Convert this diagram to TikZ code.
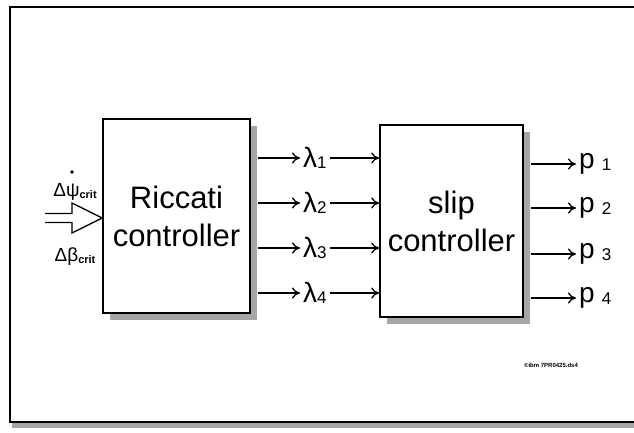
\documentclass[tikz,border=0pt]{standalone}
\usepackage{fontspec}
\setmainfont{Liberation Sans}
\usetikzlibrary{arrows.meta,positioning,shadows,calc}
\newcommand{\lsub}[1]{{\fontsize{17}{17}\selectfont\raisebox{-1.5pt}{#1}}}
\newcommand{\crsub}[1]{{\fontsize{11}{11}\selectfont\bfseries\raisebox{-2pt}{#1}}}
\tikzset{
  ctrlbox/.style={draw,line width=1.6pt,fill=white,align=center,
    font=\fontsize{31}{38}\selectfont,
    drop shadow={shadow xshift=7pt,shadow yshift=-7pt,fill=black!35,opacity=1}},
  sigflow/.style={-{To[length=8pt,width=11pt]},line width=1.3pt},
  siglabel/.style={font=\fontsize{28}{28}\selectfont,inner sep=0pt,inner xsep=3pt},
  inarrow/.style={line width=1.3pt,line join=miter},
}

\begin{document}
\begin{tikzpicture}[x=1pt,y=1pt]
\useasboundingbox (0,0) rectangle (634,433);
% outer frame with shaded bottom edge
\fill[black!35] (12,5) rectangle (634,10);
\draw[line width=1.3pt] (634,426) -- (10,426) -- (10,11) -- (634,11);
% the two controllers
\node[ctrlbox,minimum width=147pt,minimum height=194pt] (ric) at (176.5,217) {Riccati\\controller};
\node[ctrlbox,minimum width=143pt,minimum height=192pt] (slip) at (451.5,212) {slip\\controller};
% input: double arrow and its labels
\coordinate (inL) at (45,215);
\draw[inarrow] ($(inL)+(0,4.5)$) -- ++(27,0) -- ++(0,10.5) -- (ric.west |- inL)
  -- ($(inL)+(27,-15)$) -- ++(0,10.5) -- ++(-27,0);
\node[font=\fontsize{19}{19}\selectfont,inner sep=1pt] (psi) at (75,241) {Δψ\crsub{crit}};
\fill (72,261) circle (1.9pt);
\node[font=\fontsize{19}{19}\selectfont,inner sep=1pt] (beta) at (75,176) {Δβ\crsub{crit}};
% weights lambda between the controllers
\foreach \i/\y in {1/275,2/230,3/185,4/140}{
  \node[siglabel,anchor=west] (lam\i) at (300,\y) {λ\lsub{\i}};
  \draw[sigflow] ([xshift=7pt]ric.east |- lam\i.west) -- (lam\i.west);
  \draw[sigflow] (lam\i.east) -- (slip.west |- lam\i.east);
}
% outputs p
\foreach \i/\y in {1/269,2/225,3/179,4/135}{
  \node[siglabel,anchor=west] (p\i) at (576,\y) {p\hspace{7pt}\lsub{\i}};
  \draw[sigflow] ([xshift=7pt]slip.east |- p\i.west) -- (p\i.west);
}
\node[font=\fontsize{6}{6}\selectfont\bfseries] (tag) at (551,68) {©ibm 7PR0425.ds4};
\end{tikzpicture}
\end{document}
